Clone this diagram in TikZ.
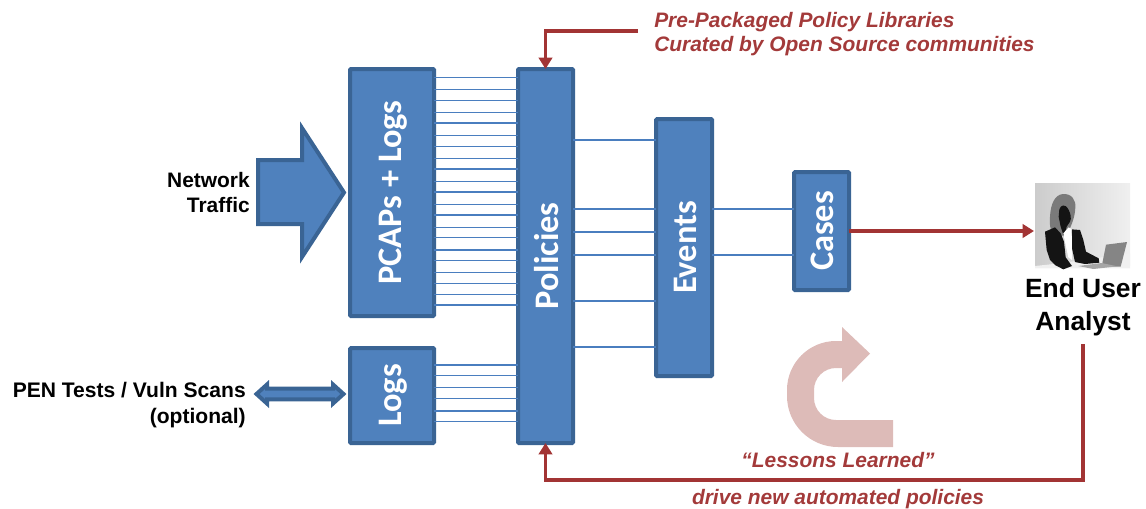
\documentclass[tikz,border=0pt]{standalone}
\usepackage{fontspec}
\setmainfont{Liberation Sans}
\newfontfamily\boxfont{Carlito}
\definecolor{boxfill}{HTML}{4F81BD}
\definecolor{boxedge}{HTML}{3A6494}
\definecolor{wire}{HTML}{4A7EBF}
\definecolor{redline}{HTML}{A23434}
\definecolor{pinkarrow}{HTML}{DDBBB8}
\definecolor{redtext}{HTML}{A33A3A}
\newcommand{\upword}[1]{\hspace{1.5pt}\rotatebox{90}{#1}}
\usetikzlibrary{arrows.meta}
\tikzset{
  stagebox/.style={draw=boxedge,fill=boxfill,line width=4pt*0.75,rounded corners=0.8pt,inner sep=0pt,outer sep=0pt,text=white,font=\boxfont\bfseries\fontsize{25.8pt}{28pt}\selectfont},
  wireline/.style={draw=wire,line width=1.5pt*0.75},
  redarrow/.style={draw=redline,line width=3.2pt*0.75,-{Triangle[length=8.5pt,width=10pt]}},
  blocklabel/.style={font=\bfseries\fontsize{15.7pt}{18.9pt}\selectfont,align=right,anchor=east,inner sep=0pt},
  redlabel/.style={font=\bfseries\itshape\fontsize{15.7pt}{18pt}\selectfont,text=redtext,inner sep=0pt},
}
\begin{document}
\begin{tikzpicture}[x=0.75pt,y=-0.75pt]
\useasboundingbox (0,0) rectangle (1146,508);
% pink turn arrow
\fill[pinkarrow] (893,447) -- (838,447) arc[start angle=90,end angle=180,radius=51] -- (787,390)
  arc[start angle=180,end angle=270,radius=49] -- (842,341) -- (842,327) -- (870,353.5) -- (842,382) -- (842,368)
  -- (836,368) arc[start angle=270,end angle=180,radius=22] -- (814,398) arc[start angle=180,end angle=90,radius=22] -- (893,420) -- cycle;
% boxes
\node[stagebox,minimum width=84*0.75pt,minimum height=247*0.75pt] (pcap) at (392,192.5) {\upword{PCAPs + Logs}};
\node[stagebox,minimum width=84*0.75pt,minimum height=95*0.75pt] (logs) at (392,395.5) {\upword{Logs}};
\node[stagebox,minimum width=55*0.75pt,minimum height=374*0.75pt] (pol) at (545.5,256) {\upword{Policies}};
\node[stagebox,minimum width=56*0.75pt,minimum height=257*0.75pt] (evt) at (684,247.5) {\upword{Events}};
\node[stagebox,minimum width=55*0.75pt,minimum height=118*0.75pt] (cas) at (821.5,231) {\upword{Cases}};
% wires
\foreach \y in {77.3,89.7,100.3,112.7,123,135.7,146.3,158.3,169,181.7,192,204.3,215,227.3,237.7,250,260.7,272.7,283.7,294.3,305}
  \draw[wireline] (pcap.east |- 0,\y) -- (pol.west |- 0,\y);
\foreach \y in {365,375.7,387.7,398.7,411,421.7}
  \draw[wireline] (logs.east |- 0,\y) -- (pol.west |- 0,\y);
\foreach \y in {140,209,232,255,301,347}
  \draw[wireline] (pol.east |- 0,\y) -- (evt.west |- 0,\y);
\foreach \y in {209,255}
  \draw[wireline] (evt.east |- 0,\y) -- (cas.west |- 0,\y);
% block arrow
\draw[boxedge,fill=boxfill,line width=4pt*0.75,miter limit=10] (258,160) -- (302,160) -- (302,128) -- (344,192.5) -- (302,257) -- (302,224) -- (258,224) -- cycle;
% double arrow
\draw[boxedge,fill=boxfill,line width=4pt*0.75,miter limit=10] (256.5,394) -- (267,384.5) -- (267,388.7) -- (333,388.7) -- (333,384.5) -- (343.5,394) -- (333,403.5) -- (333,399.3) -- (267,399.3) -- (267,403.5) -- cycle;
% analyst picture
\shade[left color=black!20,right color=black!6] (1035,183) rectangle (1130,265);
\begin{scope}[shift={(1000,170)},x=0.25pt,y=-0.25pt]
  \fill[black!6] (105,288) -- (180,280) -- (390,250) -- (390,295) -- (105,295) -- cycle;
  % hair
  \fill[black!52] (150,140) .. controls (152,100) and (165,75) .. (188,72) .. controls (215,70) and (228,90) .. (226,112)
     .. controls (225,140) and (215,165) .. (205,185) -- (175,205) -- (160,218) -- (172,240) -- (150,215) -- (158,195) .. controls (150,175) and (148,160) .. (150,140) -- cycle;
  % face
  \fill[black!92] (178,118) .. controls (182,105) and (195,100) .. (205,118) .. controls (212,130) and (215,145) .. (210,155) -- (200,170) -- (192,200) -- (182,170) -- (176,140) -- cycle;
  % jacket, left
  \fill[black!92] (135,185) -- (165,172) -- (182,190) -- (192,215) -- (197,262) -- (216,288) -- (190,298) -- (165,285) -- (150,270) -- (140,240) -- cycle;
  % jacket, right
  \fill[black!92] (215,178) -- (240,180) -- (250,210) -- (258,245) -- (296,265) -- (298,278) -- (255,282) -- (225,276) -- (216,235) -- cycle;
  % shirt
  \fill[white] (190,190) -- (206,172) -- (215,178) -- (216,270) -- (205,262) -- (197,225) -- cycle;
  % laptop
  \fill[black!48] (318,224) -- (381,216) -- (362,290) -- (305,290) -- cycle;
  \fill[black!35] (235,288) -- (305,279) -- (352,289) -- (280,297) -- cycle;
\end{scope}
% texts
\node[blocklabel] (net) at (250,192.5) {Network\\Traffic};
\node[blocklabel,font=\bfseries\fontsize{15.8pt}{19.5pt}\selectfont] (pen) at (246,405) {PEN Tests / Vuln Scans\\(optional)};
\node[font=\bfseries\fontsize{19.8pt}{24.75pt}\selectfont,align=center,inner sep=0pt] (user) at (1083,307) {End User\\Analyst};
\node[redlabel,align=left,anchor=west] (libs) at (654,34) {Pre-Packaged Policy Libraries\\Curated by Open Source communities};
\node[redlabel] (lessons) at (838,460) {“Lessons Learned”};
\node[redlabel] (drive) at (838,499) {drive new automated policies};
\coordinate (picin) at (1034,231);
\coordinate (topstart) at (638,31);
\coordinate (botstart) at (1083,344);
\coordinate (botturn) at (1083,480);
% red arrows
\draw[redarrow] (topstart) -| (pol.north);
\draw[redarrow] (cas.east) -- (picin);
\draw[redarrow] (botstart) -- (botturn) -| (pol.south);
\end{tikzpicture}
\end{document}
